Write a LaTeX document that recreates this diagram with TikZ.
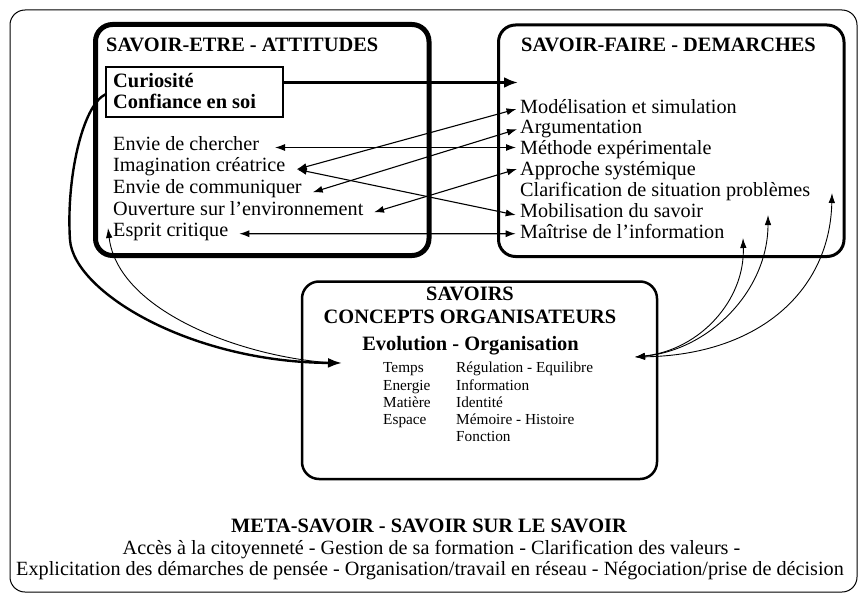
\documentclass[tikz,border=0pt]{standalone}
\usepackage{fontspec}
\setmainfont{Liberation Serif}
\usetikzlibrary{arrows.meta}
\begin{document}
\begin{tikzpicture}[x=1pt,y=-1pt,
  txt/.style={anchor=base west,inner sep=0pt,font=\fontsize{20.2}{24}\selectfont},
  btxt/.style={anchor=base west,inner sep=0pt,font=\fontsize{20.4}{24}\selectfont\bfseries},
  ctxt/.style={anchor=base,inner sep=0pt,font=\fontsize{20.2}{24}\selectfont},
  cbtxt/.style={anchor=base,inner sep=0pt,font=\fontsize{20.4}{24}\selectfont\bfseries},
  small/.style={anchor=base west,inner sep=0pt,font=\fontsize{15.3}{18}\selectfont},
  box/.style={draw,rounded corners=17pt,anchor=north west,inner sep=0pt,outer sep=0pt},
  arr/.style={line width=1.1pt,{Latex[length=10pt,width=7pt]}-{Latex[length=10pt,width=7pt]}},
  thinarr/.style={line width=0.9pt,{Latex[length=10pt,width=6.5pt]}-{Latex[length=10pt,width=6.5pt]}},
]
\useasboundingbox (0,0) rectangle (859,594);
% frames
\node[box,line width=1pt,rounded corners=15pt,minimum width=847pt,minimum height=582pt] (outer) at (10,10) {};
\node[box,line width=5pt,minimum width=333.5pt,minimum height=231pt] (boxA) at (95.5,24.5) {};
\node[box,line width=3pt,minimum width=345.5pt,minimum height=231.5pt] (boxB) at (498.5,25) {};
\node[box,line width=2.5pt,minimum width=355pt,minimum height=197.5pt] (boxC) at (302,281.5) {};
\node[draw,line width=2pt,inner sep=0pt,outer sep=0pt,anchor=north west,minimum width=177pt,minimum height=50pt] (cbox) at (106,67) {};

% box A text
\node[btxt] (tA) at (106,52) {SAVOIR-ETRE - ATTITUDES};
\node[btxt] (cur) at (113,87) {Curiosité};
\node[btxt] (conf) at (113,108) {Confiance en soi};
\node[txt] (cher) at (113,150.2) {Envie de chercher};
\node[txt] (imag) at (113,171.8) {Imagination créatrice};
\node[txt] (comm) at (113,193.4) {Envie de communiquer};
\node[txt] (ouv) at (113,215.0) {Ouverture sur l’environnement};
\node[txt] (esp) at (113,236.6) {Esprit critique};

% box B text
\node[btxt] (tB) at (521,52) {SAVOIR-FAIRE - DEMARCHES};
\node[txt] (mod) at (520,113) {Modélisation et simulation};
\node[txt] (arg) at (520,133.9) {Argumentation};
\node[txt] (meth) at (520,154.8) {Méthode expérimentale};
\node[txt] (app) at (520,175.7) {Approche systémique};
\node[txt] (clar) at (520,196.6) {Clarification de situation problèmes};
\node[txt] (mob) at (520,217.5) {Mobilisation du savoir};
\node[txt] (mai) at (520,238.4) {Maîtrise de l’information};

% box C text
\node[cbtxt] (s1) at (470,300) {SAVOIRS};
\node[cbtxt] (s2) at (470,323) {CONCEPTS ORGANISATEURS};
\node[cbtxt] (s3) at (470.5,350) {Evolution - Organisation};
\node[small] (c1) at (383,372.7) {Temps};
\node[small] (c2) at (383,390) {Energie};
\node[small] (c3) at (383,407.2) {Matière};
\node[small] (c4) at (383,424.4) {Espace};
\node[small] (d1) at (456,372.7) {Régulation - Equilibre};
\node[small] (d2) at (456,390) {Information};
\node[small] (d3) at (456,407.2) {Identité};
\node[small] (d4) at (456,424.4) {Mémoire - Histoire};
\node[small] (d5) at (456,441.6) {Fonction};

% bottom text
\node[cbtxt] (m1) at (429,532) {META-SAVOIR - SAVOIR SUR LE SAVOIR};
\node[ctxt] (m2) at (431.5,554) {Accès à la citoyenneté - Gestion de sa formation - Clarification des valeurs -};
\node[ctxt] (m3) at (430,575) {Explicitation des démarches de pensée - Organisation/travail en réseau - Négociation/prise de décision};

% coordinates
\coordinate (bin) at (518,82.5);
\coordinate (cin) at (342,363);
\coordinate (cout) at (635,357);
\coordinate (t1) at (743,238);
\coordinate (t2) at (768,215);
\coordinate (t3) at (832,193);

% straight arrows
\draw[line width=3pt,-{Latex[length=14pt,width=11pt]}] ([shift={(0,-9.5)}]cbox.east) -- (bin);
\draw[arr] ([shift={(162,-2.7)}]cher.base west) -- ([shift={(-4,-7.3)}]meth.base west);
\draw[arr] ([shift={(183.7,-2.5)}]imag.base west) -- ([shift={(-3.5,-4)}]mod.base west);
\draw[arr] ([shift={(183.7,-2.5)}]imag.base west) -- ([shift={(-4.3,-2.5)}]mob.base west);
\draw[arr] ([shift={(199.7,-1.1)}]comm.base west) -- ([shift={(-3,-4.6)}]arg.base west);
\draw[arr] ([shift={(261,-2.7)}]ouv.base west) -- ([shift={(-3,-6.7)}]app.base west);
\draw[arr] ([shift={(126.3,-2.9)}]esp.base west) -- ([shift={(-4.3,-4.7)}]mai.base west);

% curves on the left
\draw[line width=2.4pt,-{Latex[length=14pt,width=10pt]}] ([shift={(0,2)}]cbox.west) .. controls (82,105) and (66,180) .. (70,240) .. controls (74,292) and (190,362) .. (cin);
\draw[line width=0.9pt,-{Latex[length=10pt,width=6.5pt]}] ([shift={(-8,0)}]cin) .. controls (245,358) and (118,312) .. ([shift={(-5,-8.6)}]esp.base west);

% curves on the right
\draw[thinarr] (cout) .. controls (700,350) and (745,300) .. (t1);
\draw[thinarr] (cout) .. controls (710,350) and (768,290) .. (t2);
\draw[thinarr] (cout) .. controls (760,355) and (830,290) .. (t3);
\end{tikzpicture}
\end{document}
